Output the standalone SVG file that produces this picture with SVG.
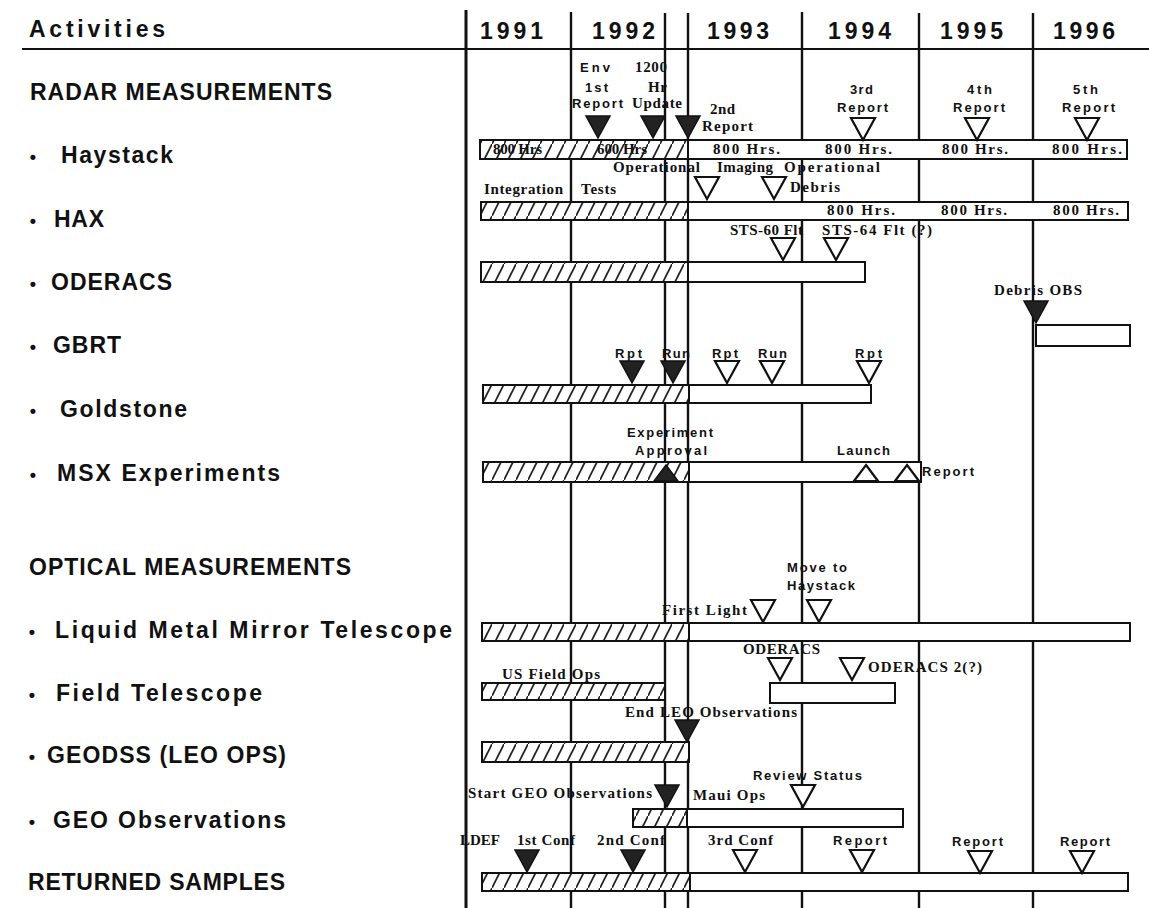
<svg xmlns="http://www.w3.org/2000/svg" xmlns:xlink="http://www.w3.org/1999/xlink" width="1149" height="908" viewBox="0 0 1149 908">
<style>
.lbl{font-family:"Liberation Sans",Arial,sans-serif;font-weight:bold;font-size:23px;fill:#111}
.bul{font-family:"Liberation Sans",Arial,sans-serif;font-weight:bold;font-size:18px;fill:#111;text-anchor:middle}
.t{font-family:"Liberation Serif","Times New Roman",serif;font-weight:bold;font-size:15px;fill:#111}
.s{font-family:"Liberation Sans",Arial,sans-serif;font-weight:bold;font-size:13px;fill:#111}
.grid line{stroke:#111;stroke-width:2.4}
.bar{fill:#fff;stroke:#111;stroke-width:2}
.hb{fill:url(#hatch);stroke:#111;stroke-width:2}
.to{fill:#fff;stroke:#111;stroke-width:2.2}
.tf{fill:#222;stroke:#111;stroke-width:1.5}
</style>
<defs>
<pattern id="hatch" patternUnits="userSpaceOnUse" width="12" height="24">
<rect width="12" height="24" fill="#fff"/>
<path d="M-1,26 L13,-2" stroke="#222" stroke-width="1.7"/>
</pattern>
<path id="td" d="M-12,-22 L12,-22 L0,0 Z"/>
<path id="tu" d="M0,0 L12,16 L-12,16 Z"/>
</defs>
<rect width="1149" height="908" fill="#fff"/>

<g id="header">
<text class="lbl" x="29" y="37" textLength="136">Activities</text>
<text class="lbl" x="480" y="39" textLength="63">1991</text>
<text class="lbl" x="592" y="39" textLength="63">1992</text>
<text class="lbl" x="707" y="39" textLength="62">1993</text>
<text class="lbl" x="828" y="39" textLength="63">1994</text>
<text class="lbl" x="940" y="39" textLength="63">1995</text>
<text class="lbl" x="1053" y="39" textLength="62">1996</text>
<line x1="22" y1="49" x2="1149" y2="49" stroke="#111" stroke-width="2"/>
</g>

<g id="labels">
<text class="lbl" x="30" y="100" textLength="302">RADAR MEASUREMENTS</text>
<text class="bul" x="33" y="163">•</text><text class="lbl" x="61" y="163" textLength="112">Haystack</text>
<text class="bul" x="33" y="227">•</text><text class="lbl" x="54" y="227" textLength="50">HAX</text>
<text class="bul" x="33" y="290">•</text><text class="lbl" x="51" y="290" textLength="121">ODERACS</text>
<text class="bul" x="33" y="353">•</text><text class="lbl" x="53" y="353" textLength="68">GBRT</text>
<text class="bul" x="33" y="417">•</text><text class="lbl" x="60" y="417" textLength="127">Goldstone</text>
<text class="bul" x="33" y="481">•</text><text class="lbl" x="57" y="481" textLength="223">MSX  Experiments</text>
<text class="lbl" x="29" y="575" textLength="322">OPTICAL MEASUREMENTS</text>
<text class="bul" x="32" y="638">•</text><text class="lbl" x="55" y="638" textLength="397">Liquid  Metal  Mirror  Telescope</text>
<text class="bul" x="32" y="701">•</text><text class="lbl" x="56" y="701" textLength="206">Field  Telescope</text>
<text class="bul" x="32" y="763">•</text><text class="lbl" x="47" y="763" textLength="239">GEODSS (LEO OPS)</text>
<text class="bul" x="32" y="828">•</text><text class="lbl" x="53" y="828" textLength="233">GEO  Observations</text>
<text class="lbl" x="28" y="890" textLength="257">RETURNED SAMPLES</text>
</g>

<g id="milestone-labels">
<text class="s" x="580" y="72" textLength="30">Env</text>
<text class="s" x="585" y="92" textLength="23">1st</text>
<text class="s" x="572" y="108" textLength="51">Report</text>
<text class="t" x="635" y="72" textLength="32">1200</text>
<text class="t" x="648" y="92" textLength="19">Hr</text>
<text class="t" x="632" y="108" textLength="50">Update</text>
<text class="t" x="710" y="114" textLength="25">2nd</text>
<text class="t" x="702" y="131" textLength="51">Report</text>
<text class="s" x="850" y="94" textLength="23">3rd</text>
<text class="s" x="837" y="112" textLength="51">Report</text>
<text class="s" x="967" y="94" textLength="25">4th</text>
<text class="s" x="953" y="112" textLength="52">Report</text>
<text class="s" x="1073" y="94" textLength="25">5th</text>
<text class="s" x="1062" y="112" textLength="53">Report</text>
<text class="t" x="613" y="172" textLength="87">Operational</text>
<text class="t" x="717" y="172" textLength="56">Imaging</text>
<text class="t" x="784" y="172" textLength="96">Operational</text>
<text class="t" x="790" y="192" textLength="50">Debris</text>
<text class="t" x="484" y="194" textLength="79">Integration</text>
<text class="t" x="581" y="194" textLength="35">Tests</text>
<text class="t" x="730" y="235" textLength="73">STS-60  Flt</text>
<text class="t" x="822" y="235" textLength="110">STS-64  Flt  (?)</text>
<text class="t" x="994" y="295" textLength="88">Debris  OBS</text>
<text class="s" x="615" y="358" textLength="27">Rpt</text>
<text class="s" x="662" y="358" textLength="28">Run</text>
<text class="s" x="712" y="358" textLength="26">Rpt</text>
<text class="s" x="758" y="358" textLength="29">Run</text>
<text class="s" x="855" y="358" textLength="27">Rpt</text>
<text class="s" x="627" y="437" textLength="86">Experiment</text>
<text class="s" x="635" y="455" textLength="72">Approval</text>
<text class="s" x="837" y="455" textLength="53">Launch</text>
<text class="s" x="922" y="476" textLength="52">Report</text>
<text class="s" x="787" y="572" textLength="60">Move  to</text>
<text class="s" x="787" y="590" textLength="68">Haystack</text>
<text class="t" x="662" y="615" textLength="85">First  Light</text>
<text class="t" x="743" y="654" textLength="77">ODERACS</text>
<text class="t" x="868" y="672" textLength="114">ODERACS  2(?)</text>
<text class="t" x="502" y="679" textLength="98">US  Field  Ops</text>
<text class="t" x="625" y="717" textLength="172">End  LEO  Observations</text>
<text class="s" x="753" y="780" textLength="109">Review  Status</text>
<text class="t" x="468" y="798" textLength="184">Start  GEO  Observations</text>
<text class="t" x="693" y="800" textLength="72">Maui  Ops</text>
<text class="t" x="460" y="845" textLength="40">LDEF</text>
<text class="t" x="517" y="845" textLength="58">1st  Conf</text>
<text class="t" x="597" y="845" textLength="68">2nd  Conf</text>
<text class="t" x="708" y="845" textLength="65">3rd  Conf</text>
<text class="s" x="833" y="845" textLength="54">Report</text>
<text class="s" x="952" y="846" textLength="51">Report</text>
<text class="s" x="1060" y="846" textLength="50">Report</text>
</g>

<g id="connectors" class="grid">
<line x1="466" y1="10" x2="466" y2="908" style="stroke-width:3"/>
<line x1="571" y1="12" x2="571" y2="908"/>
<line x1="665" y1="13" x2="665" y2="908"/>
<line x1="688" y1="13" x2="688" y2="908"/>
<line x1="802" y1="12" x2="802" y2="908"/>
<line x1="919" y1="13" x2="919" y2="908"/>
<line x1="1033" y1="13" x2="1033" y2="908"/>
</g>

<g id="row-haystack">
<rect class="bar" x="480" y="140" width="647" height="19"/>
<rect class="hb" x="480" y="140" width="208" height="19"/>
<text class="t" x="493" y="154" textLength="49">800  Hrs</text>
<text class="t" x="597" y="154" textLength="50">600  Hrs</text>
<text class="t" x="713" y="154" textLength="67">800  Hrs.</text>
<text class="t" x="825" y="154" textLength="67">800  Hrs.</text>
<text class="t" x="942" y="154" textLength="66">800  Hrs.</text>
<text class="t" x="1052" y="154" textLength="70">800  Hrs.</text>
<use href="#td" x="598" y="138" class="tf"/>
<use href="#td" x="653" y="138" class="tf"/>
<use href="#td" x="688" y="138" class="tf"/>
<use href="#td" x="863" y="140" class="to"/>
<use href="#td" x="977" y="140" class="to"/>
<use href="#td" x="1087" y="140" class="to"/>
</g>

<g id="row-hax">
<rect class="bar" x="481" y="202" width="647" height="18"/>
<rect class="hb" x="481" y="202" width="207" height="18"/>
<text class="t" x="827" y="215" textLength="68">800  Hrs.</text>
<text class="t" x="941" y="215" textLength="66">800  Hrs.</text>
<text class="t" x="1053" y="215" textLength="66">800  Hrs.</text>
<use href="#td" x="707" y="199" class="to"/>
<use href="#td" x="774" y="199" class="to"/>
</g>

<g id="row-oderacs">
<rect class="bar" x="481" y="262" width="384" height="20"/>
<rect class="hb" x="481" y="262" width="207" height="20"/>
<use href="#td" x="783" y="260" class="to"/>
<use href="#td" x="836" y="260" class="to"/>
</g>

<g id="row-gbrt">
<rect class="bar" x="1036" y="325" width="94" height="21"/>
<use href="#td" x="1036" y="323" class="tf"/>
</g>

<g id="row-goldstone">
<rect class="bar" x="483" y="385" width="388" height="18"/>
<rect class="hb" x="483" y="385" width="206" height="18"/>
<use href="#td" x="632" y="383" class="tf"/>
<use href="#td" x="673" y="383" class="tf"/>
<use href="#td" x="727" y="383" class="to"/>
<use href="#td" x="772" y="383" class="to"/>
<use href="#td" x="869" y="383" class="to"/>
</g>

<g id="row-msx">
<rect class="bar" x="483" y="462" width="438" height="20"/>
<rect class="hb" x="483" y="462" width="206" height="20"/>
<use href="#tu" x="666" y="465" class="tf"/>
<use href="#tu" x="866" y="465" class="to"/>
<use href="#tu" x="907" y="465" class="to"/>
</g>

<g id="row-lmmt">
<rect class="bar" x="482" y="623" width="648" height="18"/>
<rect class="hb" x="482" y="623" width="207" height="18"/>
<use href="#td" x="763" y="622" class="to"/>
<use href="#td" x="819" y="622" class="to"/>
</g>

<g id="row-field">
<rect class="hb" x="482" y="683" width="183" height="17"/>
<rect class="bar" x="770" y="683" width="125" height="20"/>
<use href="#td" x="780" y="680" class="to"/>
<use href="#td" x="852" y="680" class="to"/>
</g>

<g id="row-geodss">
<rect class="hb" x="482" y="742" width="207" height="20"/>
<use href="#td" x="687" y="742" class="tf"/>
</g>

<g id="row-geo">
<rect class="bar" x="633" y="809" width="270" height="18"/>
<rect class="hb" x="633" y="809" width="54" height="18"/>
<use href="#td" x="667" y="807" class="tf"/>
<use href="#td" x="803" y="807" class="to"/>
</g>

<g id="row-returned">
<rect class="bar" x="482" y="873" width="646" height="18"/>
<rect class="hb" x="482" y="873" width="208" height="18"/>
<use href="#td" x="527" y="872" class="tf"/>
<use href="#td" x="633" y="872" class="tf"/>
<use href="#td" x="745" y="872" class="to"/>
<use href="#td" x="862" y="872" class="to"/>
<use href="#td" x="980" y="873" class="to"/>
<use href="#td" x="1082" y="873" class="to"/>
</g>
</svg>
